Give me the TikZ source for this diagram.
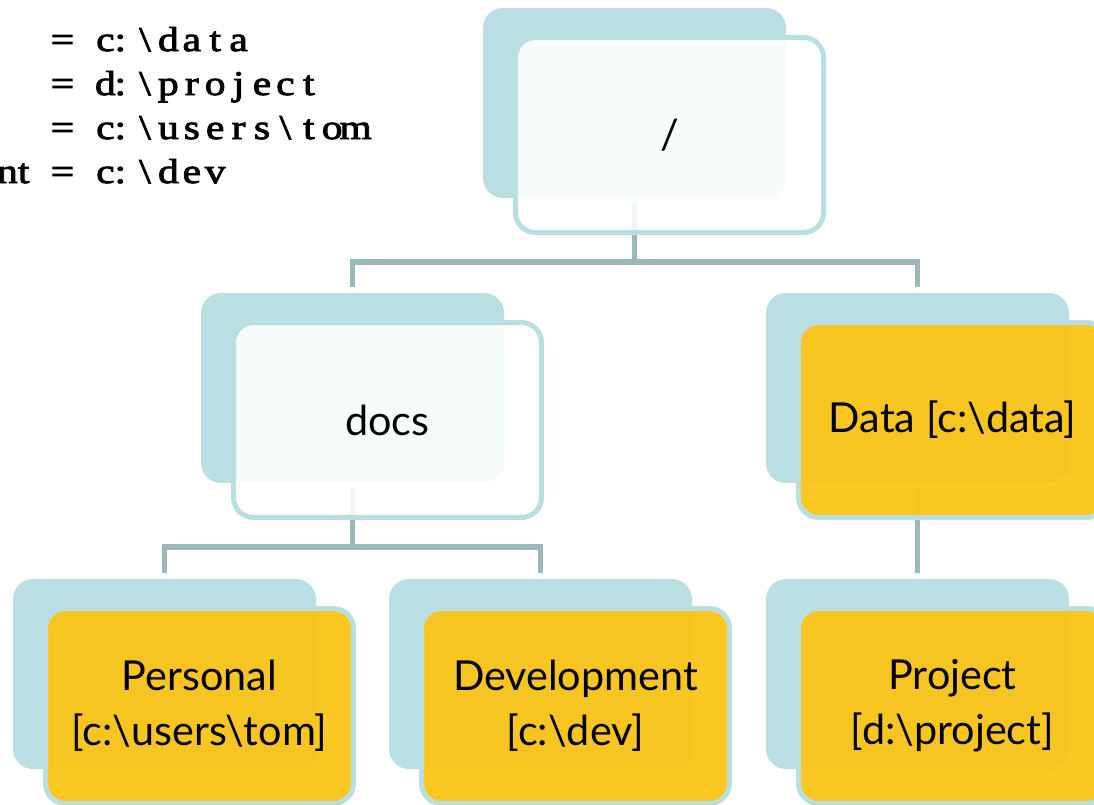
\documentclass[tikz,border=0pt]{standalone}
\usepackage{fontspec}
\setmainfont{Lato}
\newfontfamily\codefont[FakeBold=2.5,FakeStretch=1.2]{Liberation Serif}
\pgfdeclarelayer{background}
\pgfsetlayers{background,main}
\definecolor{tealback}{HTML}{BADFE2}
\definecolor{gold}{HTML}{FBC417}
\definecolor{connc}{HTML}{9CB8BB}
\newcommand\mc[1]{\makebox[17.55pt][c]{#1}}
\newcommand\cpre[1]{\mc{=}\mc{\ }\makebox[11.8pt][c]{#1}\makebox[10.5pt][c]{:}\hspace{4.5pt}}
\begin{document}
\begin{tikzpicture}[x=0.75pt,y=-0.75pt,
  backbox/.style={rectangle, rounded corners=15pt, fill=tealback, minimum width=227.25pt, minimum height=142.5pt, inner sep=0pt},
  frontbox/.style={rectangle, rounded corners=15pt, draw=tealback, line width=3.75pt, minimum width=231pt, minimum height=146.25pt, align=center, inner sep=0pt, font=\fontsize{31}{41}\selectfont, text opacity=1},
  whitebox/.style={frontbox, fill=white, fill opacity=0.88},
  goldbox/.style={frontbox, fill=gold, fill opacity=0.95},
  conn/.style={draw=connc, line width=4pt},
  code/.style={anchor=base west, inner sep=0pt, font=\codefont\fontsize{26}{30}\selectfont}
]
\useasboundingbox (0,0) rectangle (1094,804);

% code text
\node[code] (l1) at (50.5,51) {\cpre{c}\mc{\textbackslash}\mc{d}\mc{a}\mc{t}\mc{a}};
\node[code] (l2) at (50.5,95) {\cpre{d}\mc{\textbackslash}\mc{p}\mc{r}\mc{o}\mc{j}\mc{e}\mc{c}\mc{t}};
\node[code] (l3) at (50.5,139) {\cpre{c}\mc{\textbackslash}\mc{u}\mc{s}\mc{e}\mc{r}\mc{s}\mc{\textbackslash}\mc{t}\mc{o}\mc{m}};
\node[code] (l4) at (50.5,183) {\llap{nt\hspace{16pt}}\cpre{c}\mc{\textbackslash}\mc{d}\mc{e}\mc{v}};

% back boxes
\node[backbox] (rootB) at (634.5,103) {};
\node[backbox] (docsB) at (352.5,388) {};
\node[backbox] (dataB) at (917.5,388) {};
\node[backbox] (persB) at (164.5,674) {};
\node[backbox] (devB)  at (540.5,674) {};
\node[backbox] (projB) at (917.5,674) {};

% front boxes
\node[whitebox] (root) at (669.5,135) {/};
\node[whitebox] (docs) at (387.5,420) {docs};
\node[goldbox] (data) at (952.5,420) {Data [c:\textbackslash data]};
\node[goldbox] (pers) at (199.5,706) {Personal\\{}[c:\textbackslash users\textbackslash tom]};
\node[goldbox] (dev)  at (575.5,706) {Development\\{}[c:\textbackslash dev]};
\node[goldbox] (proj) at (952.5,706) {Project\\{}[d:\textbackslash project]};

% connectors
\coordinate (bar1) at (634.5,262);
\coordinate (bar2) at (352.5,547);
\begin{pgfonlayer}{background}
\draw[conn, shorten <=3.75pt] (rootB.south) -- (rootB.south |- bar1);
\draw[conn, shorten <=4.5pt, shorten >=4.5pt] (docsB.north) |- (bar1) -| (dataB.north);
\draw[conn, shorten <=3.75pt] (docsB.south) -- (docsB.south |- bar2);
\draw[conn, shorten <=4.5pt, shorten >=4.5pt] (persB.north) |- (bar2) -| (devB.north);
\draw[conn, shorten <=3.75pt, shorten >=4.5pt] (dataB.south) -- (projB.north);
\end{pgfonlayer}
\end{tikzpicture}
\end{document}
